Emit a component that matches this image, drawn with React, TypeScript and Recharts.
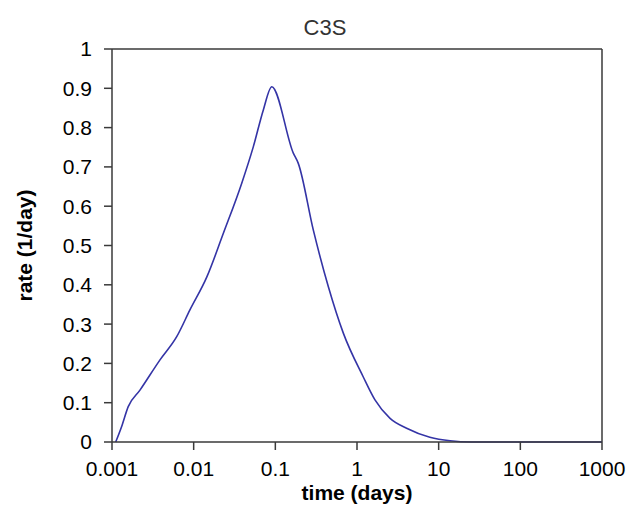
import { LineChart, Line, XAxis, YAxis, ReferenceLine, Label } from "recharts";

// C3S hydration rate
const timeDays = [
  0.00111, 0.00131, 0.00158, 0.0022, 0.00387, 0.0062, 0.009, 0.0145, 0.0231, 0.0387,
  0.0537, 0.0713, 0.0904, 0.166, 0.191, 0.292, 0.446, 0.68, 1.19, 1.66, 2.54, 4.05,
  7.8, 13.8, 25, 1000,
];
const rate = [
  0, 0.039, 0.09, 0.132, 0.209, 0.268, 0.336, 0.42, 0.531, 0.658,
  0.751, 0.845, 0.904, 0.735, 0.709, 0.539, 0.395, 0.277, 0.166, 0.107, 0.06, 0.035,
  0.012, 0.003, 0, 0,
];

const xTicks = [0.001, 0.01, 0.1, 1, 10, 100, 1000];
const yTicks = [0, 0.1, 0.2, 0.3, 0.4, 0.5, 0.6, 0.7, 0.8, 0.9, 1];

const title = "C3S";
const xTitle = "time (days)";
const yTitle = "rate (1/day)";

const data = timeDays.map((t, i) => ({ t, r: rate[i] }));

const FONT = "'Liberation Sans', Arial, sans-serif";
const AXIS = "#3a3a3a";

export default function App() {
  return (
    <div style={{ position: "absolute", left: 0, top: 0, background: "#fff" }}>
      <LineChart width={629} height={509} data={data} margin={{ top: 49, right: 27, bottom: 7, left: 52 }}>
        <XAxis
          dataKey="t"
          type="number"
          scale="log"
          domain={[0.001, 1000]}
          ticks={xTicks}
          allowDataOverflow
          height={60}
          tickSize={8}
          tickMargin={11}
          stroke={AXIS}
          strokeWidth={1.5}
          tick={{ fill: "#000", fontSize: 21, fontFamily: FONT }}
          tickFormatter={(v) => String(v)}
        >
          <Label
            content={() => (
              <text x={357} y={500} textAnchor="middle" fontFamily={FONT} fontSize={21} fontWeight="bold" fill="#000">
                {xTitle}
              </text>
            )}
          />
        </XAxis>
        <YAxis
          type="number"
          domain={[0, 1]}
          ticks={yTicks}
          width={60}
          tickSize={8}
          tickMargin={12}
          stroke={AXIS}
          strokeWidth={1.5}
          tick={{ fill: "#000", fontSize: 21, fontFamily: FONT }}
        >
          <Label
            content={() => (
              <text
                x={32}
                y={245.5}
                transform="rotate(-90, 32, 245.5)"
                textAnchor="middle"
                fontFamily={FONT}
                fontSize={21}
                fontWeight="bold"
                fill="#000"
              >
                {yTitle}
              </text>
            )}
          />
          <Label
            content={() => (
              <text x={325} y={35} textAnchor="middle" fontFamily={FONT} fontSize={22} fill="#333">
                {title}
              </text>
            )}
          />
        </YAxis>
        <ReferenceLine y={1} stroke={AXIS} strokeWidth={1.5} />
        <ReferenceLine x={1000} stroke={AXIS} strokeWidth={1.5} />
        <Line
          type="monotone"
          dataKey="r"
          stroke="#3434a6"
          strokeWidth={1.6}
          dot={false}
          isAnimationActive={false}
        />
      </LineChart>
    </div>
  );
}
